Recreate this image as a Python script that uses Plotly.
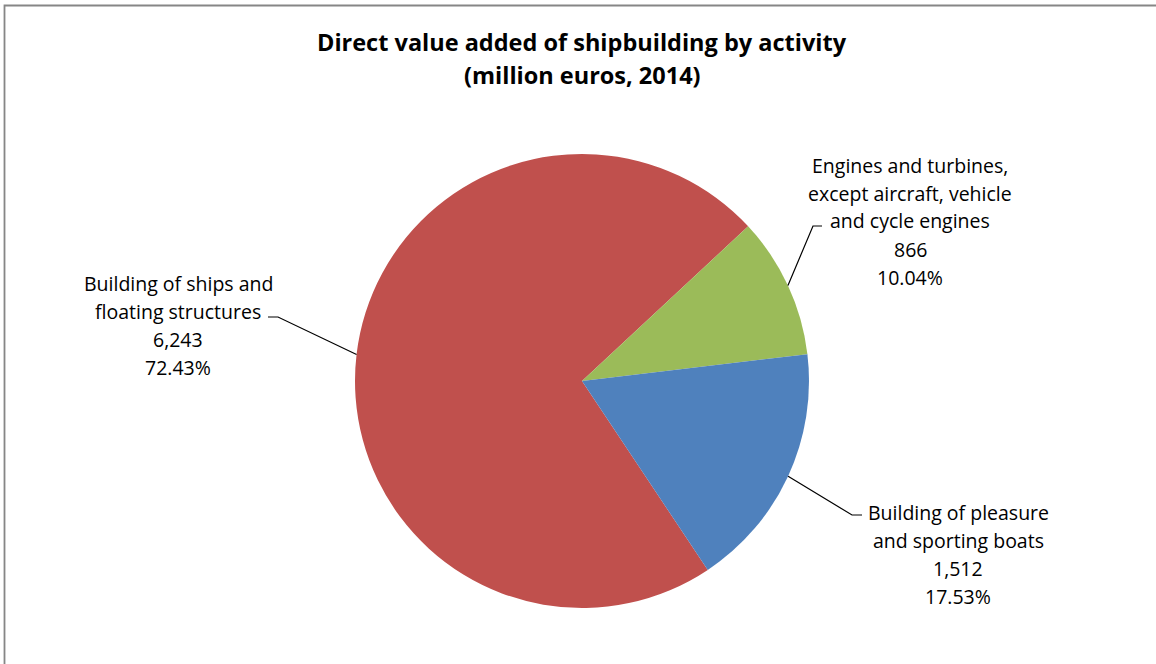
import math
import plotly.graph_objects as go

# Direct value added of shipbuilding, by activity (million euros, 2014)
label_lines = [
    ["Building of ships and", "floating structures"],
    ["Engines and turbines,", "except aircraft, vehicle", "and cycle engines"],
    ["Building of pleasure", "and sporting boats"],
]
activities = [" ".join(l) for l in label_lines]
values = [6243, 866, 1512]
shares = ["72.43%", "10.04%", "17.53%"]
colors = ["#C0504D", "#9BBB59", "#4F81BD"]

W, H = 1156, 664
CX, CY, R = 582, 381, 227          # pie centre and radius in pixels
ROTATION = 146.35                   # start angle of the first slice, clockwise from 12 o'clock
FONT = "Open Sans"

# label block placement: (centre x, first line y), elbow of leader line, leader end
label_pos = [(178, 283), (910, 165), (958, 512)]
elbows = [((278, 317), (268, 317)), ((813, 226), (822, 226)), ((852, 515), (862, 515))]
LINE_STEP = 28


def px(x):
    return x / W


def py(y):
    return 1 - y / H


fig = go.Figure(
    go.Pie(
        labels=activities,
        values=values,
        sort=False,
        direction="clockwise",
        rotation=ROTATION,
        marker=dict(colors=colors, line=dict(width=0)),
        textinfo="none",
        hoverinfo="label+value+percent",
        showlegend=False,
        domain=dict(x=[px(CX - R), px(CX + R)], y=[py(CY + R), py(CY - R)]),
    )
)

annotations = [
    dict(
        text="<b>Direct value added of shipbuilding by activity</b>",
        x=px(582), y=py(42), xref="paper", yref="paper", showarrow=False,
        font=dict(family=FONT, size=23.5, color="#000000"),
        xanchor="center", yanchor="middle",
    ),
    dict(
        text="<b>(million euros, 2014)</b>",
        x=px(582), y=py(75), xref="paper", yref="paper", showarrow=False,
        font=dict(family=FONT, size=23.5, color="#000000"),
        xanchor="center", yanchor="middle",
    ),
]

shapes = [
    # chart frame
    dict(type="rect", xref="paper", yref="paper",
         x0=px(4.5), y0=-0.05, x1=1.05, y1=py(5.5),
         line=dict(color="#868686", width=1.8), fillcolor="rgba(0,0,0,0)"),
]

total = sum(values)
start = ROTATION
for i, v in enumerate(values):
    span = 360 * v / total
    mid = math.radians(start + span / 2)
    start += span
    ex = CX + R * math.sin(mid)
    ey = CY - R * math.cos(mid)
    (bx, by), (tx, ty) = elbows[i]
    shapes.append(dict(
        type="path", xref="paper", yref="paper",
        path=f"M {px(ex)},{py(ey)} L {px(bx)},{py(by)} L {px(tx)},{py(ty)}",
        line=dict(color="#000000", width=1.2),
    ))
    lines = label_lines[i] + [f"{v:,}", shares[i]]
    lx, ly = label_pos[i]
    for k, t in enumerate(lines):
        annotations.append(dict(
            text=t, x=px(lx), y=py(ly + k * LINE_STEP), xref="paper", yref="paper",
            showarrow=False, xanchor="center", yanchor="middle",
            font=dict(family=FONT, size=19.5, color="#000000"),
        ))

fig.update_layout(
    width=W, height=H,
    margin=dict(l=0, r=0, t=0, b=0),
    paper_bgcolor="#FFFFFF",
    plot_bgcolor="#FFFFFF",
    annotations=annotations,
    shapes=shapes,
)

fig.write_html("out.html")
